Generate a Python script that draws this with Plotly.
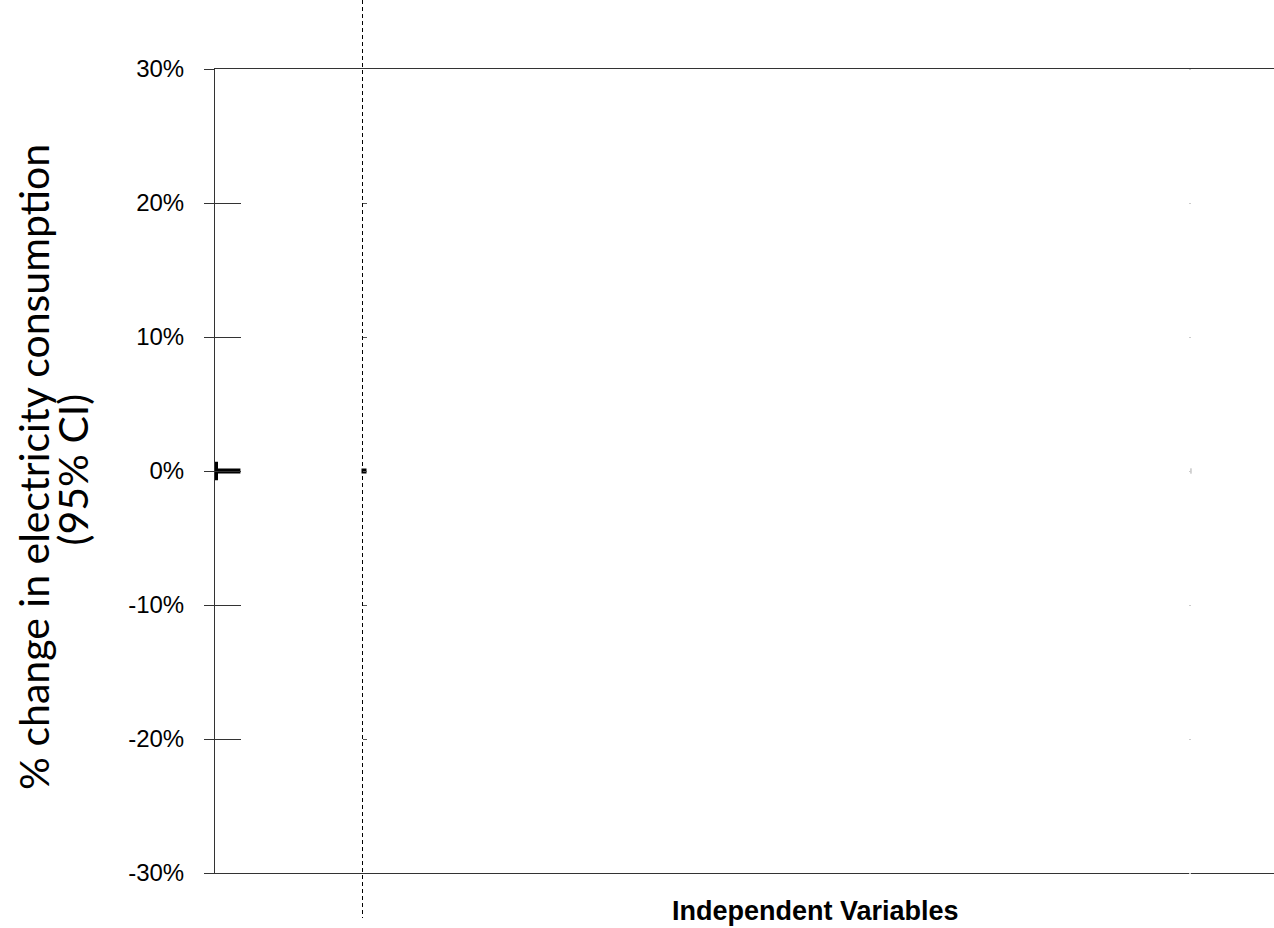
import plotly.graph_objects as go

# Estimates (share change) with 95% CI half-widths, by variable position
var_pos = [0.0, 0.1407]
estimates = [0.0, 0.0]
ci_half = [0.0069, 0.0]
est_stub = [0.024, 0.0]   # horizontal stub length on the estimate

# Faint secondary series at the right side
side_pos = [0.9216]
side_est = [0.0]
side_ci = [0.002]

y_ticks = [-0.3, -0.2, -0.1, 0.0, 0.1, 0.2, 0.3]
y_labels = ["-30%", "-20%", "-10%", "0%", "10%", "20%", "30%"]

divider_pos = 0.13928

fig = go.Figure()

# first estimate drawn as a thick T
fig.add_trace(go.Scatter(
    x=var_pos[:1], y=estimates[:1], mode="markers",
    marker=dict(size=1, color="black", opacity=0),
    error_y=dict(type="data", array=ci_half[:1], symmetric=True,
                 color="black", thickness=6, width=0),
    error_x=dict(type="data", array=est_stub[:1], arrayminus=[0],
                 symmetric=False, color="black", thickness=5, width=0),
    showlegend=False, hoverinfo="skip"))

# second estimate as a small square
fig.add_trace(go.Scatter(
    x=var_pos[1:], y=estimates[1:], mode="markers",
    marker=dict(symbol="square", size=5, color="black"),
    showlegend=False, hoverinfo="skip"))

# faint right-side series
fig.add_trace(go.Scatter(
    x=side_pos, y=side_est, mode="markers",
    marker=dict(size=1, color="#bbbbbb", opacity=0),
    error_y=dict(type="data", array=side_ci, color="#aaaaaa", thickness=1, width=0),
    showlegend=False, hoverinfo="skip"))

axis_col = "#333333"

fig.update_layout(
    width=1274, height=928,
    margin=dict(l=215, r=0, t=69, b=55),
    paper_bgcolor="white", plot_bgcolor="white",
    xaxis=dict(range=[0, 1], showgrid=False, zeroline=False,
               showticklabels=False, ticks="",
               showline=True, linecolor=axis_col, linewidth=1, mirror=True),
    yaxis=dict(range=[-0.3, 0.3], tickvals=y_ticks, ticktext=y_labels,
               ticks="outside", ticklen=10, tickcolor=axis_col, tickwidth=1,
               showgrid=False, zeroline=False,
               showline=True, linecolor=axis_col, linewidth=1,
               ticklabelstandoff=15,
               tickfont=dict(family="Liberation Sans", size=24, color="black")),
    yaxis2=dict(range=[-0.3, 0.3], overlaying="y", side="left", anchor="x",
                tickvals=y_ticks, showticklabels=False,
                ticks="inside", ticklen=26, tickcolor=axis_col, tickwidth=1,
                showgrid=False, zeroline=False, showline=False),
    yaxis3=dict(range=[-0.3, 0.3], overlaying="y", side="left", anchor="free",
                position=divider_pos, tickvals=y_ticks, showticklabels=False,
                ticks="inside", ticklen=4, tickcolor="#555555", tickwidth=1,
                showgrid=False, zeroline=False, showline=False),
    yaxis4=dict(range=[-0.3, 0.3], overlaying="y", side="left", anchor="free",
                position=side_pos[0], tickvals=y_ticks, showticklabels=False,
                ticks="outside", ticklen=2, tickcolor="#cccccc", tickwidth=1,
                showgrid=False, zeroline=False, showline=False),
)

# helper traces so the overlay axes are drawn
for ax in ["y2", "y3", "y4"]:
    fig.add_trace(go.Scatter(x=[None], y=[None], yaxis=ax, showlegend=False,
                             hoverinfo="skip"))

# dashed divider running the full page height
fig.add_shape(type="line", xref="x", yref="paper",
              x0=divider_pos, x1=divider_pos, y0=1.0858, y1=-0.056,
              line=dict(color="black", width=1, dash="4px,3px"))

# y-axis title in two lines
fig.add_annotation(text="% change in electricity consumption", textangle=-90,
                   xref="paper", yref="paper", x=-0.171, y=0.505,
                   xanchor="center", yanchor="middle", showarrow=False,
                   font=dict(family="Lato", size=41, color="black"))
fig.add_annotation(text="(95% CI)", textangle=-90,
                   xref="paper", yref="paper", x=-0.135, y=0.502,
                   xanchor="center", yanchor="middle", showarrow=False,
                   font=dict(family="Lato", size=41, color="black"))

# x-axis title
fig.add_annotation(text="<b>Independent Variables</b>",
                   xref="paper", yref="paper", x=0.5666, y=-0.0472,
                   xanchor="center", yanchor="middle", showarrow=False,
                   font=dict(family="Liberation Sans", size=27, color="black"))

fig.write_html("out.html")
